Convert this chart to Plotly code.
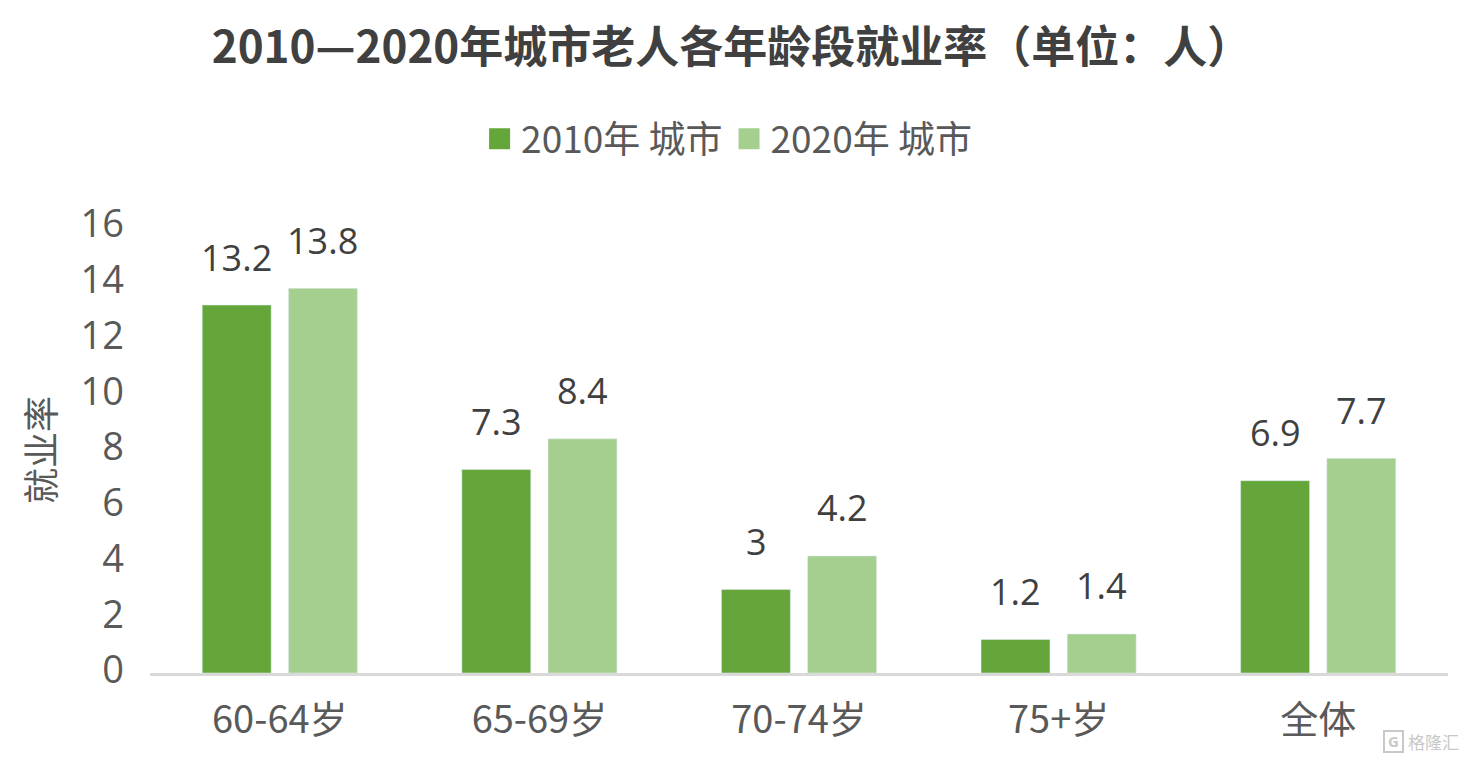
import plotly.graph_objects as go

categories = ["60-64岁", "65-69岁", "70-74岁", "75+岁", "全体"]
urban_2010 = [13.2, 7.3, 3, 1.2, 6.9]
urban_2020 = [13.8, 8.4, 4.2, 1.4, 7.7]
y_ticks = [0, 2, 4, 6, 8, 10, 12, 14, 16]

FONT = "Noto Sans CJK SC, Open Sans, sans-serif"
NUM_FONT = "Open Sans, sans-serif"
TEXT = "#595959"
LABEL = "#404040"
MARK = "#C8C8C8"

LEFT, RIGHT, TOP, BOTTOM = 150, 18, 227, 87
PLOT_W = 1466 - LEFT - RIGHT
PLOT_H = 760 - TOP - BOTTOM


def px(x):
    return (x - LEFT) / PLOT_W


def py(y):
    return (TOP + PLOT_H - y) / PLOT_H


series = [
    ("2010年 城市", urban_2010, "#65A63A", -43),
    ("2020年 城市", urban_2020, "#A5CF8F", 43),
]

fig = go.Figure()
annotations = []
for name, values, colour, shift in series:
    fig.add_bar(x=categories, y=values, name=name, marker_color=colour, showlegend=False)
    # Legend entry with a larger square swatch than bar traces allow
    fig.add_scatter(
        x=[None], y=[None], mode="markers", name=name,
        marker=dict(symbol="square", size=16, color=colour, line=dict(width=8, color=colour)),
    )
    for cat, v in zip(categories, values):
        annotations.append(dict(
            x=cat, y=v, xref="x", yref="y", text=str(v), showarrow=False,
            xshift=shift, yshift=48, yanchor="middle",
            font=dict(size=36, color=LABEL, family=NUM_FONT),
        ))

# Publisher mark in the lower right corner
annotations.append(dict(
    text="格隆汇", x=px(1433), y=py(741), xref="paper", yref="paper",
    xanchor="center", yanchor="middle", showarrow=False,
    font=dict(size=17, color=MARK, family=FONT),
))
annotations.append(dict(
    text="<b>G</b>", x=px(1393), y=py(741), xref="paper", yref="paper",
    xanchor="center", yanchor="middle", showarrow=False,
    font=dict(size=15, color=MARK, family=NUM_FONT),
))

fig.update_layout(
    width=1466, height=760, margin=dict(l=LEFT, r=RIGHT, t=TOP, b=BOTTOM),
    paper_bgcolor="white", plot_bgcolor="white", barmode="group",
    bargap=0.336, bargroupgap=0.2,
    font=dict(family=FONT, color=TEXT),
    title=dict(text="<b>2010—2020年城市老人各年龄段就业率（单位：人）</b>",
               x=0.499, xanchor="center", y=0.937, yanchor="middle",
               font=dict(size=44, color=LABEL, family=FONT)),
    legend=dict(orientation="h", x=0.445, xanchor="center", y=1.197, yanchor="middle",
                font=dict(size=37, color=TEXT), traceorder="normal", itemwidth=33),
    yaxis=dict(range=[0, 16], tickvals=y_ticks, showgrid=False, zeroline=False, showline=False,
               ticks="", ticklabelstandoff=25, ticklabelshift=-3,
               tickfont=dict(size=38, color=TEXT, family=NUM_FONT),
               title=dict(text="就业率", font=dict(size=36, color=TEXT), standoff=13)),
    xaxis=dict(showline=True, linecolor="#D9D9D9", linewidth=3, ticks="", ticklabelstandoff=11,
               tickfont=dict(size=38, color=TEXT)),
    annotations=annotations,
    shapes=[dict(type="rect", xref="paper", yref="paper",
                 x0=px(1384), x1=px(1403), y0=py(752), y1=py(731),
                 line=dict(color=MARK, width=2))],
)

fig.write_html("out.html")
